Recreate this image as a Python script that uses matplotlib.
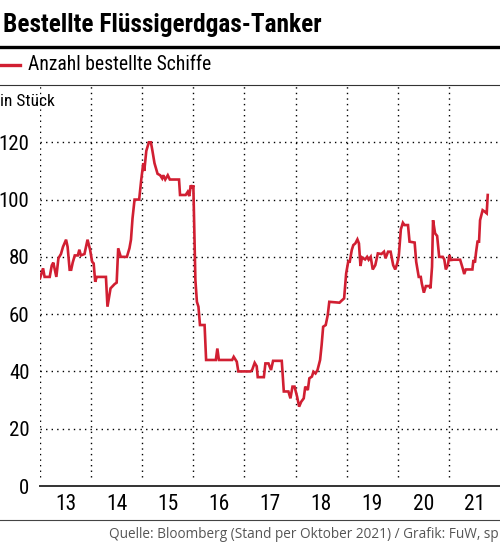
# -*- coding: utf-8 -*-
"""
Bestellte Fluessigerdgas-Tanker - Anzahl bestellte Schiffe
"""

import os
import matplotlib
matplotlib.use("Agg")
import matplotlib.pyplot as plt
from matplotlib import font_manager
from matplotlib.font_manager import FontProperties
from matplotlib.lines import Line2D


def findNarrowFont(Bold):
    # look for a condensed font file, best first
    keys = ["LiberationSansNarrow", "RobotoCondensed", "Roboto_Condensed",
            "DejaVuSansCondensed", "OpenSansCondensed", "NotoSansCondensed"]
    files = [f.fname for f in font_manager.fontManager.ttflist]
    for key in keys:
        for fname in sorted(files):
            base = os.path.basename(fname)
            if key not in base:
                continue
            is_bold = "Bold" in base and "SemiBold" not in base and "ExtraBold" not in base
            if "Italic" in base or "Oblique" in base:
                continue
            if Bold == is_bold:
                return fname, key
    return None, None


# data (decimal year, ships on order)
YEARS = [2013.00, 2013.06, 2013.09, 2013.19, 2013.23, 2013.26, 2013.32, 2013.36, 2013.41, 2013.45,
         2013.51, 2013.54, 2013.58, 2013.61, 2013.64, 2013.68, 2013.74, 2013.77, 2013.80, 2013.87,
         2013.93, 2013.98, 2014.02, 2014.05, 2014.08, 2014.11, 2014.26, 2014.29, 2014.32, 2014.38,
         2014.46, 2014.50, 2014.53, 2014.58, 2014.70, 2014.75, 2014.78, 2014.81, 2014.85, 2014.94,
         2014.98, 2015.02, 2015.04, 2015.08, 2015.13, 2015.17, 2015.20, 2015.24, 2015.30, 2015.35,
         2015.39, 2015.41, 2015.45, 2015.50, 2015.54, 2015.72, 2015.74, 2015.85, 2015.89, 2015.92,
         2015.95, 2015.98, 2016.00, 2016.02, 2016.04, 2016.07, 2016.10, 2016.13, 2016.22, 2016.25,
         2016.44, 2016.47, 2016.50, 2016.76, 2016.79, 2016.85, 2016.88, 2017.12, 2017.15, 2017.20,
         2017.24, 2017.26, 2017.38, 2017.41, 2017.47, 2017.52, 2017.56, 2017.73, 2017.77, 2017.86,
         2017.90, 2017.94, 2017.98, 2018.03, 2018.07, 2018.11, 2018.16, 2018.19, 2018.24, 2018.27,
         2018.32, 2018.35, 2018.39, 2018.43, 2018.48, 2018.51, 2018.54, 2018.59, 2018.63, 2018.66,
         2018.86, 2018.90, 2018.95, 2018.99, 2019.03, 2019.06, 2019.10, 2019.13, 2019.17, 2019.21,
         2019.24, 2019.27, 2019.30, 2019.36, 2019.40, 2019.43, 2019.47, 2019.51, 2019.56, 2019.61,
         2019.68, 2019.73, 2019.76, 2019.81, 2019.86, 2019.91, 2019.95, 2019.99, 2020.02, 2020.06,
         2020.10, 2020.13, 2020.20, 2020.23, 2020.33, 2020.36, 2020.41, 2020.45, 2020.47, 2020.51,
         2020.55, 2020.62, 2020.64, 2020.67, 2020.69, 2020.73, 2020.77, 2020.81, 2020.88, 2020.91,
         2020.94, 2020.98, 2021.01, 2021.04, 2021.09, 2021.22, 2021.27, 2021.30, 2021.33, 2021.46,
         2021.48, 2021.51, 2021.53, 2021.56, 2021.59, 2021.61, 2021.66, 2021.70, 2021.74, 2021.76]
SHIPS = [72.5, 76, 73, 73, 77, 78, 73, 79.5, 81, 83.5,
         86, 83.5, 75.5, 75.5, 78, 80.5, 80.5, 82.5, 80.5, 81,
         86, 82.5, 78.3, 77.7, 71.3, 73, 73, 73, 62.6, 69,
         70.5, 71, 83, 80, 80, 83, 86, 93.4, 100, 100,
         106.8, 112.6, 110, 117, 120, 120, 117, 112.7, 109, 108.5,
         107.4, 108.5, 107, 108.5, 107, 107, 101.6, 101.6, 102.7, 101.2,
         105, 103.9, 105, 89, 72, 64.3, 62.6, 56.2, 56.2, 44,
         44, 48, 44, 44, 45.1, 43.4, 40, 40, 40.5, 43,
         41.8, 38, 38, 42.8, 42.8, 40.5, 43.7, 43.7, 33, 33,
         30.6, 34.7, 34.7, 31.2, 27.7, 29.4, 30.6, 34.7, 33.5, 37.6,
         38.2, 39.9, 39.3, 40.5, 44, 49.2, 55.6, 56.2, 59.7, 64.3,
         64, 64.7, 65.5, 74.2, 78.3, 78.3, 82.4, 84.1, 84.7, 86.1,
         84.7, 76.8, 79.8, 79.1, 80, 79, 80, 75.6, 77.1, 81.2,
         81, 81.8, 79.5, 81.8, 81.8, 77.1, 75.6, 77.7, 80.3, 89.6,
         91.9, 91.1, 91.1, 85.3, 85, 78.3, 73, 73, 70.7, 67.5,
         69.8, 69.8, 69, 76.5, 92.8, 88.2, 87.3, 80, 80, 79.1,
         75.6, 77.1, 80.6, 78.9, 79, 79, 76, 74, 75.6, 75.6,
         78.9, 78, 81.4, 85.3, 85.3, 92.8, 96.3, 95.8, 95.2, 101.6]

Y_TICKS = [0, 20, 40, 60, 80, 100, 120]
YEAR_LABELS = ["13", "14", "15", "16", "17", "18", "19", "20", "21"]

RED = "#d11f32"
DOTS = (0, (1, 3))

regular_file, regular_key = findNarrowFont(False)
bold_file, bold_key = findNarrowFont(True)
if regular_file:
    FONT = lambda Size: FontProperties(fname=regular_file, size=Size)
else:
    FONT = lambda Size: FontProperties(family="DejaVu Sans", stretch="condensed", size=Size * 0.85)
if bold_file:
    FONT_BOLD = lambda Size: FontProperties(fname=bold_file, size=Size)
else:
    FONT_BOLD = lambda Size: FontProperties(family="DejaVu Sans", weight="bold", size=Size * 0.8)

fig = plt.figure(figsize=(5, 5.45), dpi=100)
ax = fig.add_axes([0.08, 1 - 486 / 545, 0.92, (486 - 85) / 545])

# dotted grid
for y in Y_TICKS[1:]:
    ax.axhline(y, color="black", lw=1.0, linestyle=DOTS, zorder=1)
ax.vlines([2013 + i for i in range(9)], 3, 140, colors="black", lw=1.0,
          linestyles=[DOTS], zorder=1)

ax.plot(YEARS, SHIPS, color=RED, lw=1.9, solid_joinstyle="miter", zorder=3)

ax.set_xlim(2013, 2022)
ax.set_ylim(0, 140)
for s in ["top", "right", "left"]:
    ax.spines[s].set_visible(False)
ax.spines["bottom"].set_color("#333333")
ax.spines["bottom"].set_linewidth(1.4)

ax.set_yticks(Y_TICKS)
ax.set_yticklabels([str(v) for v in Y_TICKS], fontproperties=FONT(15))
ax.set_xticks([2013.5 + i for i in range(9)])
ax.set_xticklabels(YEAR_LABELS, fontproperties=FONT(15.5))
ax.tick_params(axis="both", length=0, colors="black")
ax.tick_params(axis="y", pad=7.5)
ax.tick_params(axis="x", pad=6)

# header
fig.text(0.006, 1 - 25 / 545, "Bestellte Flüssigerdgas-Tanker", fontproperties=FONT_BOLD(18.3),
         va="center", ha="left")
fig.add_artist(Line2D([0, 1], [1 - 47 / 545] * 2, color="black", lw=2.4))
fig.add_artist(Line2D([0, 0.04], [1 - 65 / 545] * 2, color=RED, lw=2.4))
fig.text(0.056, 1 - 65 / 545, "Anzahl bestellte Schiffe", fontproperties=FONT(14.1),
         va="center", ha="left")
fig.add_artist(Line2D([0, 1], [1 - 85 / 545] * 2, color="#333333", lw=0.8))
fig.text(0.0, 1 - 101 / 545, "in Stück", fontproperties=FONT(12.5),
         va="center", ha="left")

# footer
fig.add_artist(Line2D([0, 1], [1 - 520 / 545] * 2, color="#444444", lw=0.8))
fig.text(0.998, 1 - 535 / 545, "Quelle: Bloomberg (Stand per Oktober 2021) / Grafik: FuW, sp",
         fontfamily="Open Sans", fontsize=9.8, color="#555555", va="center", ha="right")

fig.savefig("out.png", dpi=100)
